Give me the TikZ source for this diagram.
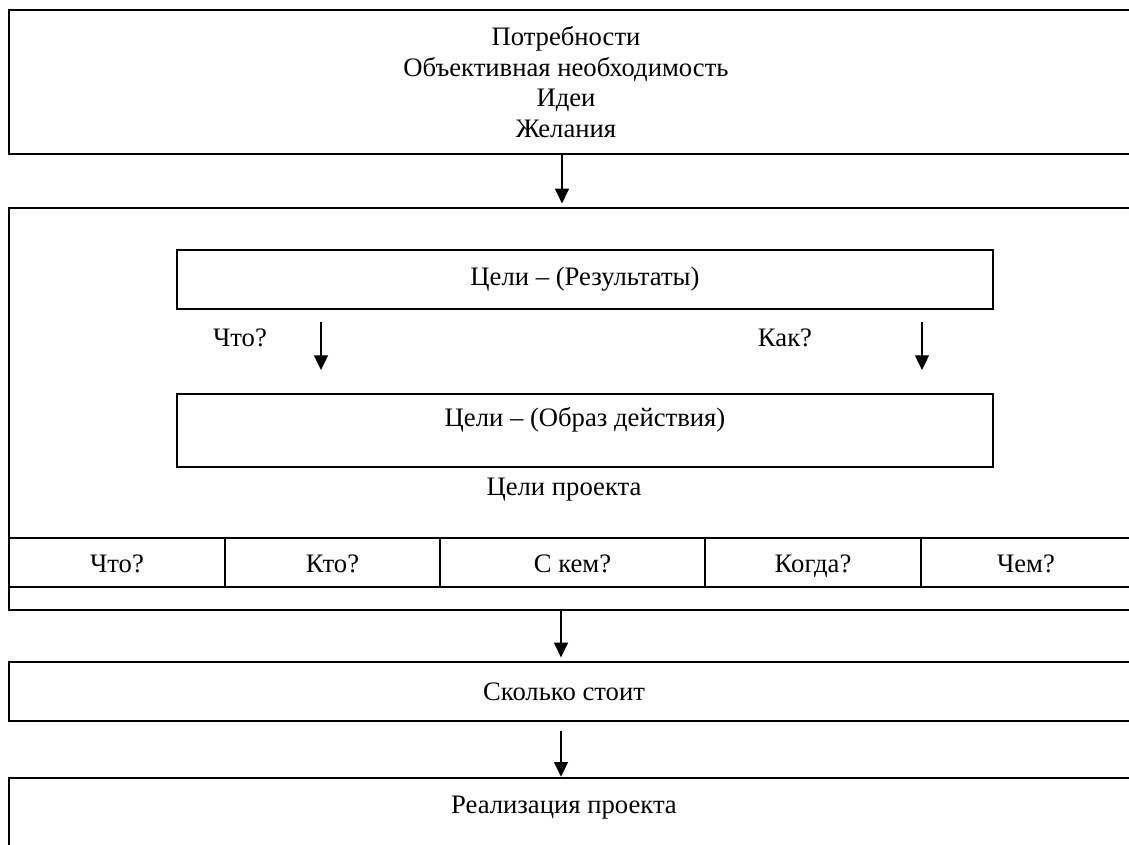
\documentclass[tikz,border=0pt]{standalone}
\usepackage{fontspec}
\setmainfont{Liberation Serif}
\usetikzlibrary{arrows.meta}

\begin{document}
\begin{tikzpicture}[x=0.75pt, y=-0.75pt, font=\fontsize{20}{23}\selectfont, line width=0.9pt, line join=miter, >={Triangle[length=11pt,width=10.5pt]},
	box/.style={draw, rectangle, inner sep=0pt},
	cell/.style={box, minimum height=36.75pt, text height=15pt, text depth=0pt},
	txt/.style={inner sep=0pt, align=center}]
	\useasboundingbox (0,0) rectangle (1129,845);
	\clip (0,0) rectangle (1129,845);
	% outer boxes
	\node[box, minimum width=841.5pt, minimum height=108pt] (needs) at (570,82) {};
	\node[txt] (needsText) at (566,82) {Потребности\\Объективная необходимость\\Идеи\\Желания};
	\node[box, minimum width=841.5pt, minimum height=301.5pt] (goals) at (570,409) {};
	\node[box, minimum width=612pt, minimum height=44.25pt] (res) at (585,279.5) {Цели – (Результаты)};
	\node[box, minimum width=612pt, minimum height=54.75pt] (act) at (585,430.5) {};
	\node[txt] (actText) at (585,420) {Цели – (Образ действия)};
	\node[txt] (goalsText) at (564,490) {Цели проекта};
	% row of questions
	\foreach \n/\x/\w/\t in {q1/117/162/Что?, q2/332.5/161.25/Кто?, q3/572.5/198.75/С кем?, q4/813/162/Когда?, q5/1026/157.5/Чем?}
		\node[cell, minimum width=\w pt] (\n) at (\x,562.5) {\t};
	\node[box, minimum width=841.5pt, minimum height=44.25pt] (cost) at (570,691.5) {};
	\node[txt] (costText) at (564,692) {Сколько стоит};
	\node[box, minimum width=841.5pt, minimum height=54pt] (impl) at (570,814) {};
	\node[txt] (implText) at (564,808) {Реализация проекта};
	% inner arrows
	\path (321,322) coordinate (W1) (321,370) coordinate (W2)
		(922,322) coordinate (H1) (922,370) coordinate (H2);
	\node[txt] (what) at (240,338) {Что?};
	\node[txt] (how) at (785,338) {Как?};
	\draw[->] (W1)--(W2);
	\draw[->] (H1)--(H2);
	\draw[->] ([xshift=-6pt]needs.south)--([xshift=-6pt,yshift=3pt]goals.north);
	\draw[->] ([xshift=-6.75pt]goals.south)--([xshift=-6.75pt,yshift=3pt]cost.north);
	\draw[->] ([xshift=-6.75pt,yshift=-6.75pt]cost.south)--([xshift=-6.75pt,yshift=0.5pt]impl.north);
\end{tikzpicture}
\end{document}
